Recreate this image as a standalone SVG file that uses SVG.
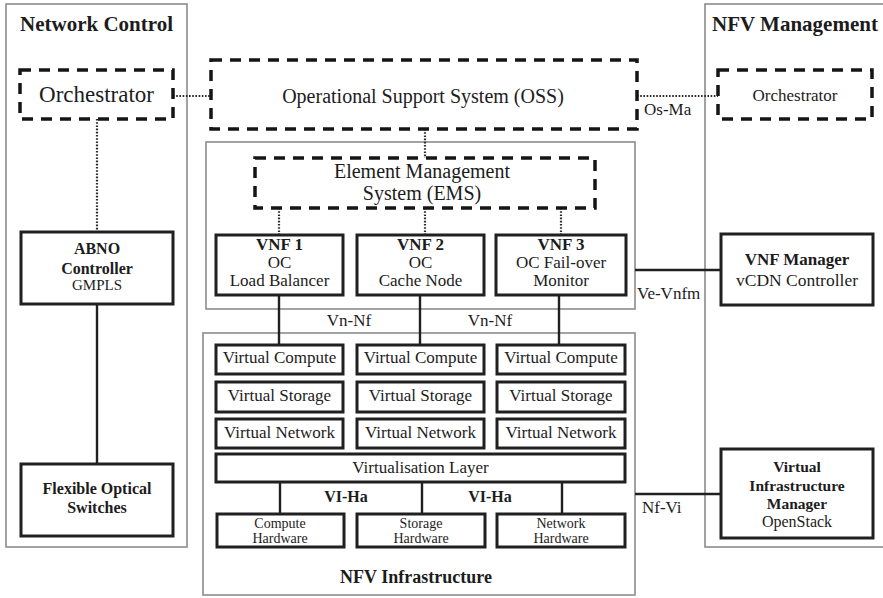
<svg xmlns="http://www.w3.org/2000/svg" width="883" height="598" viewBox="0 0 883 598">
  <style>
    text { font-family: "Liberation Serif", "Times New Roman", serif; fill: #1c1c1c; text-anchor: middle; }
    .b { font-weight: bold; }
    .lbl { font-size: 17px; text-anchor: start; }
    .panel { fill: none; stroke: #8c8c8c; stroke-width: 1.6; }
    .dash { fill: none; stroke: #151515; stroke-width: 3.5; stroke-dasharray: 11 8; }
    .box { fill: #fff; stroke: #202020; stroke-width: 3; }
    .dot { stroke: #2a2a2a; stroke-width: 2.2; stroke-dasharray: 1.6 1.6; fill: none; }
    .wire { stroke: #202020; stroke-width: 2.4; fill: none; }
  </style>
  <rect width="883" height="598" fill="#fff"/>

  <!-- panels -->
  <g id="network-control">
    <rect class="panel" x="6" y="4" width="181" height="543"/>
    <text class="b" x="96.5" y="31" font-size="21">Network Control</text>
  </g>
  <g id="nfv-management">
    <rect class="panel" x="705" y="4" width="190" height="543"/>
    <text class="b" x="795" y="31" font-size="21">NFV Management</text>
  </g>
  <g id="vnf-layer">
    <rect class="panel" x="206" y="142" width="429" height="167"/>
  </g>
  <g id="nfv-infrastructure">
    <rect class="panel" x="203" y="333" width="432" height="262"/>
    <text class="b" x="416" y="583" font-size="18">NFV Infrastructure</text>
  </g>

  <!-- connectors -->
  <g id="connectors">
    <line class="dot" x1="173" y1="96" x2="211" y2="96"/>
    <line class="dot" x1="637" y1="96" x2="718" y2="96"/>
    <line class="dot" x1="97" y1="119" x2="97" y2="232"/>
    <line class="dot" x1="425" y1="129" x2="425" y2="158"/>
    <line class="dot" x1="279" y1="208" x2="279" y2="235"/>
    <line class="dot" x1="425" y1="208" x2="425" y2="235"/>
    <line class="dot" x1="561" y1="208" x2="561" y2="235"/>
    <line class="wire" x1="97" y1="304" x2="97" y2="464"/>
    <line class="wire" x1="279" y1="295" x2="279" y2="345"/>
    <line class="wire" x1="420" y1="295" x2="420" y2="345"/>
    <line class="wire" x1="559" y1="295" x2="559" y2="345"/>
    <line class="wire" x1="635" y1="270" x2="721" y2="270"/>
    <line class="wire" x1="635" y1="494" x2="721" y2="494"/>
    <line class="wire" x1="280" y1="482" x2="280" y2="514"/>
    <line class="wire" x1="422" y1="482" x2="422" y2="514"/>
    <line class="wire" x1="562" y1="482" x2="562" y2="514"/>
    <text class="lbl" x="644" y="115">Os-Ma</text>
    <text x="349" y="326" font-size="17">Vn-Nf</text>
    <text x="490" y="326" font-size="17">Vn-Nf</text>
    <text class="lbl" x="637" y="299">Ve-Vnfm</text>
    <text class="lbl" x="642" y="513">Nf-Vi</text>
    <text class="b" x="346" y="502" font-size="16">VI-Ha</text>
    <text class="b" x="490" y="502" font-size="16">VI-Ha</text>
  </g>

  <!-- management nodes -->
  <g id="orchestrator-left">
    <rect class="dash" x="20" y="70" width="153" height="49"/>
    <text x="96.5" y="102" font-size="23">Orchestrator</text>
  </g>
  <g id="oss">
    <rect class="dash" x="211" y="60" width="426" height="69"/>
    <text x="423" y="103" font-size="20">Operational Support System (OSS)</text>
  </g>
  <g id="orchestrator-right">
    <rect class="dash" x="718" y="70" width="154" height="49"/>
    <text x="795" y="101" font-size="17">Orchestrator</text>
  </g>
  <g id="ems">
    <rect class="dash" x="255" y="158" width="340" height="50"/>
    <text x="422" y="178" font-size="20">Element Management</text>
    <text x="422" y="200" font-size="20">System (EMS)</text>
  </g>

  <!-- VNFs -->
  <g id="vnf1" font-size="17">
    <rect class="box" x="216" y="235" width="127" height="60"/>
    <text class="b" x="279.5" y="250">VNF 1</text>
    <text x="279.5" y="268">OC</text>
    <text x="279.5" y="286">Load Balancer</text>
  </g>
  <g id="vnf2" font-size="17">
    <rect class="box" x="357" y="235" width="127" height="60"/>
    <text class="b" x="420.5" y="250">VNF 2</text>
    <text x="420.5" y="268">OC</text>
    <text x="420.5" y="286">Cache Node</text>
  </g>
  <g id="vnf3" font-size="17">
    <rect class="box" x="496" y="235" width="130" height="60"/>
    <text class="b" x="561" y="250">VNF 3</text>
    <text x="561" y="268">OC Fail-over</text>
    <text x="561" y="286">Monitor</text>
  </g>

  <!-- network control nodes -->
  <g id="abno">
    <rect class="box" x="21" y="232" width="152" height="72"/>
    <text class="b" x="97" y="254" font-size="16">ABNO</text>
    <text class="b" x="97" y="274" font-size="16">Controller</text>
    <text x="97" y="290" font-size="15">GMPLS</text>
  </g>
  <g id="optical-switches">
    <rect class="box" x="21" y="464" width="152" height="72"/>
    <text class="b" x="97" y="494" font-size="16">Flexible Optical</text>
    <text class="b" x="97" y="513" font-size="16">Switches</text>
  </g>

  <!-- NFV management nodes -->
  <g id="vnf-manager">
    <rect class="box" x="721" y="234" width="152" height="71"/>
    <text class="b" x="797" y="265" font-size="17">VNF Manager</text>
    <text x="797" y="286" font-size="17.5">vCDN Controller</text>
  </g>
  <g id="vim">
    <rect class="box" x="721" y="449" width="152" height="89"/>
    <text class="b" x="797" y="472" font-size="15.5">Virtual</text>
    <text class="b" x="797" y="491" font-size="15.5">Infrastructure</text>
    <text class="b" x="797" y="509" font-size="15.5">Manager</text>
    <text x="797" y="527" font-size="16">OpenStack</text>
  </g>

  <!-- virtual resources -->
  <g id="virtual-compute" font-size="17">
    <rect class="box" x="216" y="345" width="127" height="29"/>
    <rect class="box" x="357" y="345" width="127" height="29"/>
    <rect class="box" x="497" y="345" width="128" height="29"/>
    <text x="279.5" y="363">Virtual Compute</text>
    <text x="420.5" y="363">Virtual Compute</text>
    <text x="561" y="363">Virtual Compute</text>
  </g>
  <g id="virtual-storage" font-size="17">
    <rect class="box" x="216" y="382" width="127" height="30"/>
    <rect class="box" x="357" y="382" width="127" height="30"/>
    <rect class="box" x="497" y="382" width="128" height="30"/>
    <text x="279.5" y="401">Virtual Storage</text>
    <text x="420.5" y="401">Virtual Storage</text>
    <text x="561" y="401">Virtual Storage</text>
  </g>
  <g id="virtual-network" font-size="17">
    <rect class="box" x="216" y="419" width="127" height="29"/>
    <rect class="box" x="357" y="419" width="127" height="29"/>
    <rect class="box" x="497" y="419" width="128" height="29"/>
    <text x="279.5" y="438">Virtual Network</text>
    <text x="420.5" y="438">Virtual Network</text>
    <text x="561" y="438">Virtual Network</text>
  </g>
  <g id="virtualisation-layer">
    <rect class="box" x="216" y="454" width="409" height="28"/>
    <text x="420.5" y="473" font-size="17">Virtualisation Layer</text>
  </g>

  <!-- hardware -->
  <g id="compute-hardware" font-size="14">
    <rect class="box" x="217" y="514" width="127" height="33"/>
    <text x="280" y="528">Compute</text>
    <text x="280" y="543">Hardware</text>
  </g>
  <g id="storage-hardware" font-size="14">
    <rect class="box" x="357" y="514" width="128" height="33"/>
    <text x="421" y="528">Storage</text>
    <text x="421" y="543">Hardware</text>
  </g>
  <g id="network-hardware" font-size="14">
    <rect class="box" x="497" y="514" width="128" height="33"/>
    <text x="561" y="528">Network</text>
    <text x="561" y="543">Hardware</text>
  </g>
</svg>
